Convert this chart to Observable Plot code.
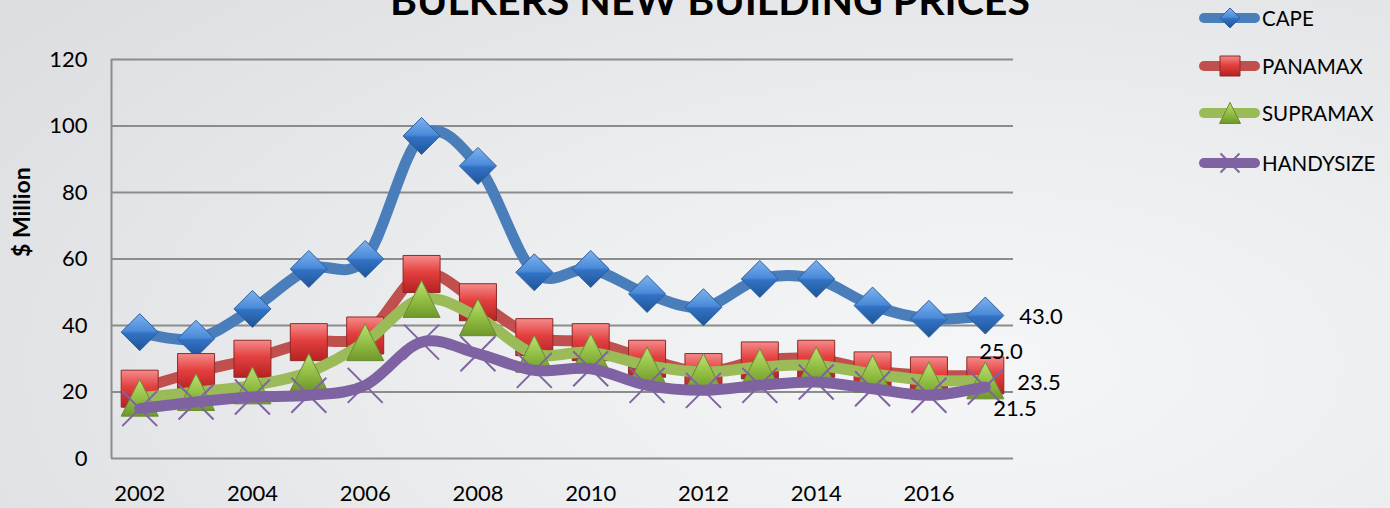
<!DOCTYPE html>
<html>
<head>
<meta charset="utf-8">
<script src="https://cdn.jsdelivr.net/npm/d3@7"></script>
<script src="https://cdn.jsdelivr.net/npm/@observablehq/plot@0.6"></script>
<style>
  html, body { margin: 0; padding: 0; overflow: hidden; }
  #wrap {
    position: relative; width: 1390px; height: 508px; overflow: hidden;
    font-family: Lato, "Open Sans", sans-serif; color: #000;
    background: radial-gradient(ellipse 85% 110% at 70% 72%, #f5f6f7 0%, #eceef0 40%, #dcdee1 100%);
  }
  #title {
    position: absolute; left: 0; width: 1420px; top: -21px; text-align: center;
    font-size: 41px; line-height: 41px; font-weight: 700; white-space: nowrap;
  }
  #chart { position: absolute; left: 0; top: 0; }
  #legend { position: absolute; left: 1194px; top: 0; }
  .lg-row { position: absolute; left: 0; height: 30px; width: 200px; }
  .lg-row svg { position: absolute; left: 0; top: 0; }
  .lg-row span { position: absolute; left: 68px; top: 0; line-height: 30px; font-size: 20.5px; white-space: nowrap; }
</style>
</head>
<body>
<div id="wrap">
  <div id="chart"></div>
  <div id="title"></div>
  <div id="legend"></div>
</div>
<script>
// ---------------- data ----------------
const years     = [2002, 2003, 2004, 2005, 2006, 2007, 2008, 2009, 2010, 2011, 2012, 2013, 2014, 2015, 2016, 2017];
const cape      = [38, 36, 45, 57, 60, 97, 88, 56, 57, 49.5, 45.5, 54, 54, 46, 42, 43.0];
const panamax   = [21, 26, 30, 35, 37, 55.5, 47, 36.5, 35, 30, 26, 29.5, 30, 26.5, 25, 25.0];
const supramax  = [18.3, 20, 22, 26, 35, 48, 42.5, 31.5, 32, 28, 26, 27.5, 28, 25.5, 23.5, 23.5];
const handysize = [15, 17, 18.5, 19, 22, 35, 31.5, 26.5, 27, 22, 20.5, 22, 23, 21, 19, 21.5];
const seriesNames = ["CAPE", "PANAMAX", "SUPRAMAX", "HANDYSIZE"];
const yTicks = [0, 20, 40, 60, 80, 100, 120];
const xTicks = [2002, 2004, 2006, 2008, 2010, 2012, 2014, 2016];
const titleText = "BULKERS NEW BUILDING PRICES";
const yLabelText = "$ Million";

// ---------------- symbols (size -> half-extent r) ----------------
const half = size => Math.sqrt(size / Math.PI);
const diamond = { draw(ctx, size) { const r = half(size); ctx.moveTo(0, -r); ctx.lineTo(r, 0); ctx.lineTo(0, r); ctx.lineTo(-r, 0); ctx.closePath(); } };
const square  = { draw(ctx, size) { const r = half(size); ctx.moveTo(-r, -r); ctx.lineTo(r, -r); ctx.lineTo(r, r); ctx.lineTo(-r, r); ctx.closePath(); } };
const triangle = { draw(ctx, size) { const r = half(size); ctx.moveTo(0, -r); ctx.lineTo(r, r); ctx.lineTo(-r, r); ctx.closePath(); } };
const times   = { draw(ctx, size) { const r = half(size); ctx.moveTo(-r, -r); ctx.lineTo(r, r); ctx.moveTo(-r, r); ctx.lineTo(r, -r); } };

const seriesValues = [cape, panamax, supramax, handysize];
const styles = [
  { line: "#4a7ebb", symbol: diamond,  r: 18.5, lr: 10,  fill: "url(#gBlue)",  stroke: "#2f5f9e", sw: 1, label: { dx: 34, dy: 1 } },
  { line: "#c0504d", symbol: square,   r: 18.5, lr: 10,  fill: "url(#gRed)",   stroke: "#8e2a28", sw: 1, label: { dx: -6, dy: -23 } },
  { line: "#9bbb59", symbol: triangle, r: 18.5, lr: 10.5, fill: "url(#gGreen)", stroke: "#6a8a34", sw: 1, label: { dx: 32, dy: 3 } },
  { line: "#7f62a1", symbol: times,    r: 17.5, lr: 9.5, fill: "none",         stroke: "#8064a2", sw: 2, label: { dx: 8, dy: 21.5 } }
];

const rows = seriesNames.map((name, i) => years.map((year, j) => ({ series: name, year, value: seriesValues[i][j] })));
const xDomain = [years[0] - 0.5, years[years.length - 1] + 0.5];

const marks = [
  Plot.gridY(yTicks.filter(v => v > 0), { stroke: "#8c8c8c", strokeOpacity: 1, strokeWidth: 2 }),
  Plot.ruleY([yTicks[0]], { stroke: "#8c8c8c", strokeWidth: 2 }),
  Plot.ruleX([xDomain[0]], { stroke: "#8c8c8c", strokeWidth: 2 }),
  Plot.axisY(yTicks, { tickSize: 0, tickPadding: 24, label: null, fontSize: 22 }),
  Plot.axisX(xTicks, { tickSize: 0, tickPadding: 27, tickFormat: d => String(d), label: null, fontSize: 22 }),
  Plot.text([yLabelText], { text: d => d, frameAnchor: "left", dx: -89, dy: -2, rotate: -90, fontWeight: "bold", fontSize: 23 })
];

rows.forEach((data, i) => {
  const s = styles[i];
  if (s.symbol === times) {
    marks.push(Plot.dot(data, { x: "year", y: "value", symbol: s.symbol, r: s.r, fill: "none", stroke: s.stroke, strokeWidth: s.sw }));
    marks.push(Plot.line(data, { x: "year", y: "value", curve: "cardinal", stroke: s.line, strokeWidth: 11 }));
  } else {
    marks.push(Plot.line(data, { x: "year", y: "value", curve: "cardinal", stroke: s.line, strokeWidth: 11 }));
    marks.push(Plot.dot(data, { x: "year", y: "value", symbol: s.symbol, r: s.r, fill: s.fill, stroke: s.stroke, strokeWidth: s.sw }));
  }
});
rows.forEach((data, i) => {
  const s = styles[i];
  marks.push(Plot.text([data[data.length - 1]], { x: "year", y: "value", text: d => d.value.toFixed(1), textAnchor: "start", dx: s.label.dx, dy: s.label.dy, fontSize: 22, fill: "#000" }));
});

const chart = Plot.plot({
  width: 1390, height: 508,
  marginLeft: 111, marginRight: 377, marginTop: 59, marginBottom: 50,
  x: { type: "linear", domain: xDomain },
  y: { domain: [yTicks[0], yTicks[yTicks.length - 1]] },
  style: { background: "transparent", color: "#000", fontFamily: "Lato, 'Open Sans', sans-serif", fontSize: "22px", overflow: "visible" },
  marks
});

// gradients for bevelled markers
function addDefs(svgNode) {
  const defs = d3.select(svgNode).insert("defs", ":first-child");
  const grads = [
    ["gBlue",  [[0, "#7db3ef"], [0.47, "#4b8ad8"], [0.53, "#3272c4"], [1, "#1f5497"]]],
    ["gRed",   [[0, "#f58b8b"], [0.45, "#e3403f"], [1, "#b42222"]]],
    ["gGreen", [[0, "#bfe073"], [0.5, "#94c046"], [1, "#6e982a"]]]
  ];
  grads.forEach(([id, stops]) => {
    const g = defs.append("linearGradient").attr("id", id).attr("x1", 0).attr("y1", 0).attr("x2", 0).attr("y2", 1);
    stops.forEach(([o, c]) => g.append("stop").attr("offset", o).attr("stop-color", c));
  });
}
addDefs(chart);
document.getElementById("chart").appendChild(chart);
document.getElementById("title").textContent = titleText;

// legend
const legendRowsY = [18, 66, 113, 163];
const legend = d3.select("#legend");
seriesNames.forEach((name, i) => {
  const s = styles[i];
  const row = legend.append("div").attr("class", "lg-row").style("top", (legendRowsY[i] - 15) + "px");
  const svg = row.append("svg").attr("width", 70).attr("height", 30);
  svg.append("line").attr("x1", 10).attr("x2", 61).attr("y1", 15).attr("y2", 15)
    .attr("stroke", s.line).attr("stroke-width", 10).attr("stroke-linecap", "round");
  const path = d3.symbol(s.symbol, Math.PI * s.lr * s.lr)();
  svg.append("path").attr("d", path).attr("transform", "translate(36,15)")
    .attr("fill", s.fill).attr("stroke", s.stroke).attr("stroke-width", s.sw);
  row.append("span").text(name);
});
</script>
</body>
</html>
